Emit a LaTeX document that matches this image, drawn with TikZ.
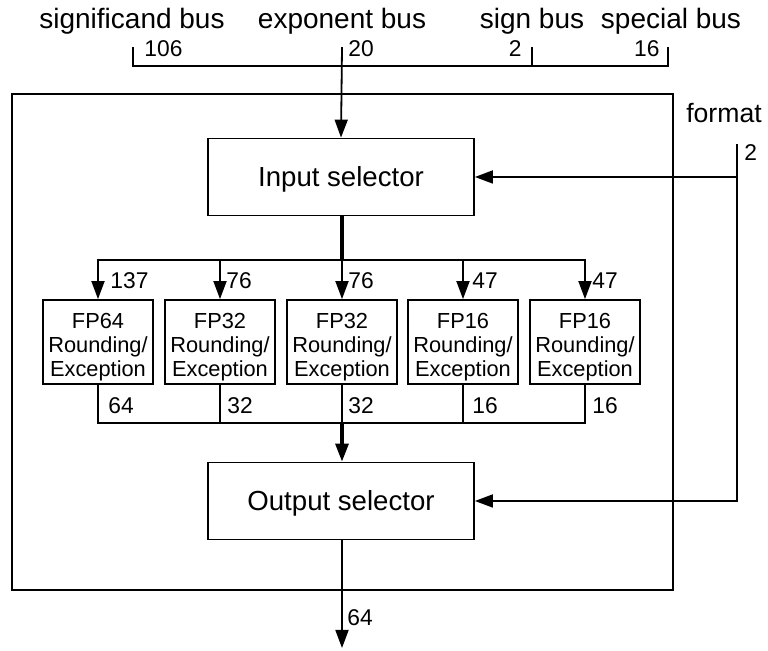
\documentclass[tikz,border=0pt]{standalone}
\usepackage{fontspec}
\setmainfont{Liberation Sans}
\usetikzlibrary{arrows.meta}
\begin{document}
\begin{tikzpicture}[x=0.5pt,y=-0.5pt,
  wire/.style={line width=0.9pt,line cap=rect},
  fat/.style={line width=1.6pt},
  arr/.style={-{Triangle[length=9pt,width=6.5pt]}},
  selbox/.style={draw,line width=0.9pt,minimum width=133pt,minimum height=38.5pt,text depth=0pt,font=\fontsize{13.8}{16}\selectfont},
  fpbox/.style={draw,line width=0.9pt,minimum width=55pt,minimum height=42pt,inner sep=0pt},
  fptext/.style={align=center,inner sep=0pt,font=\fontsize{10.9}{12}\selectfont},
  busname/.style={font=\fontsize{14}{16}\selectfont},
  num/.style={font=\fontsize{11.4}{13}\selectfont,inner sep=1pt}]
\useasboundingbox (0,0) rectangle (768,651);

% bus names
\node[busname] (sigbus) at (132,21) {significand bus};
\node[busname] (expbus) at (342,21) {exponent bus};
\node[busname] (sgnbus) at (532,21) {sign bus};
\node[busname] (spcbus) at (671,21) {special bus};

% input bus taps
\coordinate (t1) at (133,48);
\coordinate (t2) at (342,48);
\coordinate (t3) at (532,48);
\coordinate (t4) at (668,48);
\coordinate (b1) at (133,66);
\coordinate (b2) at (342,66);
\coordinate (b3) at (532,66);
\coordinate (b4) at (668,66);
\draw[wire] (t1) -- (b1) -- (b4) -- (t4);
\draw[wire] (t3) -- (b3);
\node[num,anchor=west] (n106) at (142,49) {106};
\node[num,anchor=west] (n20) at (346,49) {20};
\node[num,anchor=east] (n2) at (524,49) {2};
\node[num,anchor=east] (n16) at (662,49) {16};

% enclosing frame
\draw[line width=0.9pt] (12,94) rectangle (673,590);

% selectors
\node[selbox] (insel) at (341,177) {Input selector};
\node[selbox] (outsel) at (341,501) {Output selector};

\draw[wire,arr] (t2) -- (insel.north);

% format input
\node[busname,font=\fontsize{13.3}{16}\selectfont] (fmt) at (724,113) {format};
\coordinate (fm) at (737,145);
\node[num,anchor=west] (n2f) at (742,153) {2};
\draw[wire,arr] (fm) |- (insel.east);
\draw[wire,arr] (fm) |- (outsel.east);

% rounding / exception units
\foreach \b/\x/\w in {fpA/98/64,fpB/220/32,fpC/342/32,fpD/463/16,fpE/585/16} {
  \node[fpbox] (\b) at (\x,342) {};
  \node[fptext] (\b t) at (\x,347) {FP\w\\Rounding/\\Exception};
}

% fan-out
\coordinate (sp) at (342,260);
\coordinate (sA) at (98,260);
\coordinate (sE) at (585,260);
\draw[fat] (insel.south -| sp) -- (sp);
\draw[wire] (sA) -- (sE);
\foreach \b in {fpA,fpB,fpC,fpD,fpE}
  \draw[wire,arr] (\b.north |- sp) -- (\b.north);
\node[num,anchor=west] (wA) at (108,281) {137};
\node[num,anchor=west] (wB) at (224,281) {76};
\node[num,anchor=west] (wC) at (346,281) {76};
\node[num,anchor=west] (wD) at (470,281) {47};
\node[num,anchor=west] (wE) at (590,281) {47};

% fan-in
\coordinate (jn) at (342,423);
\coordinate (jA) at (98,423);
\coordinate (jE) at (585,423);
\foreach \b in {fpA,fpB,fpC,fpD,fpE}
  \draw[wire] (\b.south) -- (\b.south |- jn);
\draw[wire] (jA) -- (jE);
\draw[fat,arr] (jn) -- (outsel.north -| jn);
\node[num,anchor=west] (rA) at (106,406) {64};
\node[num,anchor=west] (rB) at (225,406) {32};
\node[num,anchor=west] (rC) at (346,406) {32};
\node[num,anchor=west] (rD) at (470,406) {16};
\node[num,anchor=west] (rE) at (590,406) {16};

% result
\coordinate (res) at (342,648);
\draw[wire,arr] (outsel.south -| res) -- (res);
\node[num,anchor=west] (rout) at (345,618) {64};
\end{tikzpicture}
\end{document}
